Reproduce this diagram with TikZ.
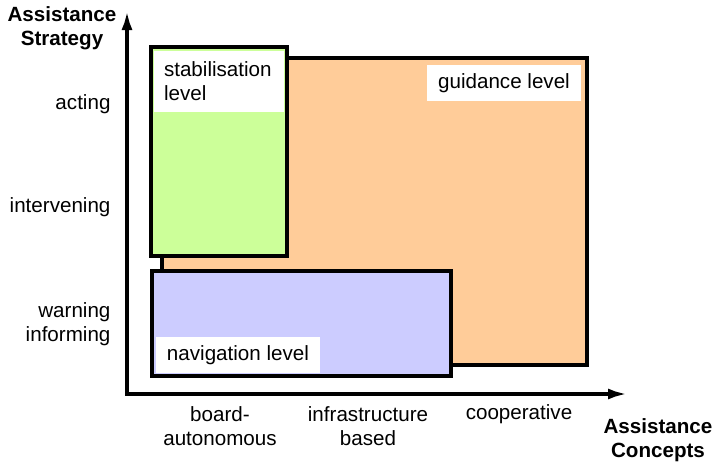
\documentclass[tikz,border=0pt]{standalone}
\usepackage{fontspec}
\setmainfont{Liberation Sans}
\usetikzlibrary{arrows.meta}
\definecolor{guidorange}{RGB}{255,204,153}
\definecolor{stabgreen}{RGB}{204,255,153}
\definecolor{navblue}{RGB}{204,204,255}
\begin{document}
\begin{tikzpicture}[x=1pt,y=-1pt,
    lvl/.style={line width=4pt},
    tag/.style={fill=white,inner sep=0pt,font=\fontsize{20.6}{24}\selectfont},
    lab/.style={font=\fontsize{20.6}{24}\selectfont,align=center},
    axis/.style={line width=4pt,line join=miter,{Latex[length=20pt,width=11pt]}-{Latex[length=20pt,width=11pt]}}]
    \useasboundingbox (0,0) rectangle (715,469);
    % the three levels
    \filldraw[lvl,fill=guidorange] (162,58) rectangle (587,365);
    \filldraw[lvl,fill=stabgreen] (151,47) rectangle (287,256);
    \filldraw[lvl,fill=navblue] (152,271) rectangle (451,376);
    \node[tag,minimum width=130pt,minimum height=61pt,text width=110pt,inner xsep=10pt,align=left] (stab) at (219,81.5) {stabilisation\\level};
    \node[tag,minimum width=154pt,minimum height=36pt] (guid) at (504,83) {guidance level};
    \node[tag,minimum width=164pt,minimum height=36pt] (nav) at (238,355) {navigation level};
    % axes
    \coordinate (ytip) at (127,10);
    \coordinate (orig) at (127,394);
    \coordinate (xtip) at (628,394);
    \draw[axis] (ytip) -- (orig) -- (xtip);
    \node[lab,font=\fontsize{20.6}{24}\selectfont\bfseries] (ylab) at (62,28) {Assistance\\Strategy};
    \node[lab,anchor=east] (acting) at (114,104) {acting};
    \node[lab,anchor=east] (interv) at (114,207) {intervening};
    \node[lab,anchor=east,align=right] (warn) at (114,324) {warning\\informing};
    \node[lab] (board) at (220,426) {board-\\autonomous};
    \node[lab] (infra) at (368,426) {infrastructure\\based};
    \node[lab] (coop) at (519,414) {cooperative};
    \node[lab,font=\fontsize{20.6}{24}\selectfont\bfseries] (xlab) at (658,440) {Assistance\\Concepts};
\end{tikzpicture}
\end{document}
